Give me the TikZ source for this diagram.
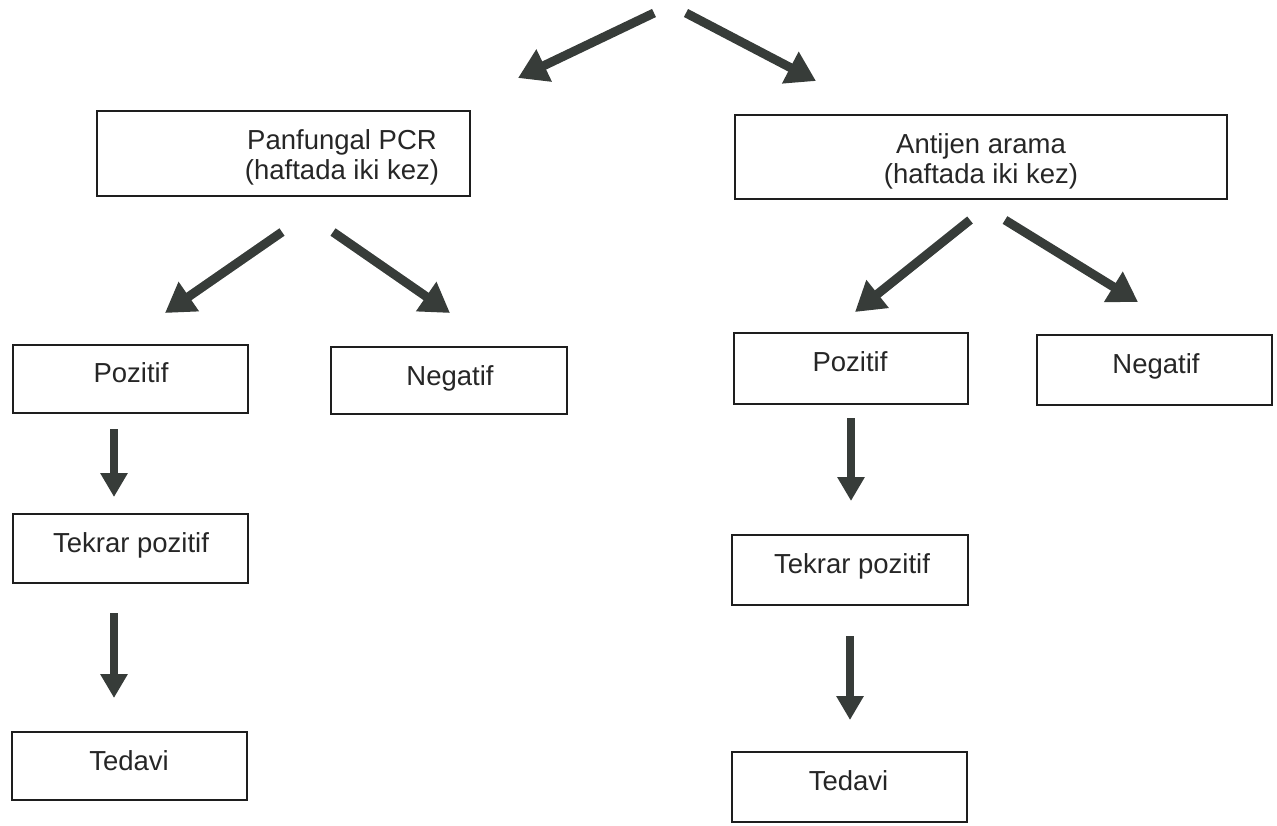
\documentclass[tikz,border=0pt]{standalone}
\usepackage{fontspec}
\setmainfont{Liberation Sans}
\usetikzlibrary{arrows.meta}
\definecolor{arrowgray}{RGB}{55,60,57}
\definecolor{boxline}{RGB}{30,30,30}
\begin{document}
\begin{tikzpicture}[x=1pt,y=-1pt,
  box/.style={draw=boxline, line width=1.5pt, rectangle, inner sep=0pt},
  txt/.style={anchor=base, inner sep=0pt, text=black!85,
    font=\fontsize{27.5}{30}\selectfont},
  bigarrow/.style={draw=arrowgray, line width=9pt,
    -{Triangle[width=34pt,length=29pt]}},
  downarrow/.style={draw=arrowgray, line width=7.5pt,
    -{Triangle[width=26pt,length=24pt]}}]
\useasboundingbox (0,0) rectangle (1277,825);

% --- boxes ---
\node[box, minimum width=373pt, minimum height=85pt] (pcr) at (283.5,153.5) {};
\node[box, minimum width=492pt, minimum height=84pt] (ag) at (981,157) {};
\node[box, minimum width=235pt, minimum height=68pt] (lpos) at (130.5,379) {};
\node[box, minimum width=236pt, minimum height=67pt] (lneg) at (449,380.5) {};
\node[box, minimum width=234pt, minimum height=71pt] (rpos) at (851,368.5) {};
\node[box, minimum width=235pt, minimum height=70pt] (rneg) at (1154.5,370) {};
\node[box, minimum width=235pt, minimum height=69pt] (lrep) at (130.5,548.5) {};
\node[box, minimum width=235pt, minimum height=68pt] (ltx) at (129.5,766) {};
\node[box, minimum width=236pt, minimum height=70pt] (rrep) at (850,570) {};
\node[box, minimum width=235pt, minimum height=70pt] (rtx) at (849.5,787) {};

% --- texts ---
\node[txt] (pcrA) at (342,149) {Panfungal PCR};
\node[txt] (pcrB) at (342,179) {(haftada iki kez)};
\node[txt] (agA) at (981,153) {Antijen arama};
\node[txt] (agB) at (981,183) {(haftada iki kez)};
\node[txt] (lposT) at (131,382) {Pozitif};
\node[txt] (lnegT) at (450,385) {Negatif};
\node[txt] (rposT) at (850,371) {Pozitif};
\node[txt] (rnegT) at (1156,373) {Negatif};
\node[txt] (lrepT) at (131,552) {Tekrar pozitif};
\node[txt] (ltxT) at (129,770) {Tedavi};
\node[txt] (rrepT) at (852,573) {Tekrar pozitif};
\node[txt] (rtxT) at (848.5,790) {Tedavi};

% --- arrow end points ---
\coordinate (t1s) at (654,13);   \coordinate (t1e) at (518,78);
\coordinate (t2s) at (686,13);   \coordinate (t2e) at (816,81);
\coordinate (a1s) at (282,232);  \coordinate (a1e) at (165,313);
\coordinate (a2s) at (333,232);  \coordinate (a2e) at (450,313);
\coordinate (b1s) at (970,220);  \coordinate (b1e) at (855,312);
\coordinate (b2s) at (1005,220); \coordinate (b2e) at (1138,302);
\coordinate (v1s) at (114,429);  \coordinate (v1e) at (114,497);
\coordinate (v2s) at (114,613);  \coordinate (v2e) at (114,698);
\coordinate (v3s) at (851,418);  \coordinate (v3e) at (851,501);
\coordinate (v4s) at (850,636);  \coordinate (v4e) at (850,720);

% --- arrows ---
\draw[bigarrow] (t1s) -- (t1e);
\draw[bigarrow] (t2s) -- (t2e);
\draw[bigarrow] (a1s) -- (a1e);
\draw[bigarrow] (a2s) -- (a2e);
\draw[bigarrow] (b1s) -- (b1e);
\draw[bigarrow] (b2s) -- (b2e);
\draw[downarrow] (v1s) -- (v1e);
\draw[downarrow] (v2s) -- (v2e);
\draw[downarrow] (v3s) -- (v3e);
\draw[downarrow] (v4s) -- (v4e);
\end{tikzpicture}
\end{document}
